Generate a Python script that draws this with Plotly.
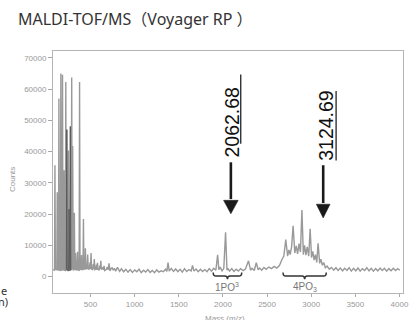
import plotly.graph_objects as go

# ---------------- data ----------------
mass = [75, 92, 97, 102, 118, 123, 128, 137, 142, 147, 159, 164, 169, 178, 183, 188,
        196, 201, 206, 215, 220, 225, 231, 236, 245, 250, 254, 257, 261, 267, 272, 277,
        282, 287, 292, 298, 303, 312, 317, 322, 326, 331, 337, 348, 353, 358, 371, 376,
        381, 393, 398, 403, 415, 420, 425, 437, 442, 447, 460, 468, 475, 488, 494, 499,
        506, 512, 525, 531, 537, 543, 549, 561, 567, 573, 579, 585, 599, 605, 611, 617,
        623, 636, 642, 648, 654, 660, 680, 690, 700, 710, 720, 735, 745, 757, 770,
        785, 805, 830, 850, 875, 900, 925, 950, 975, 1000, 1025, 1050, 1075, 1100, 1125,
        1150, 1175, 1200, 1225, 1250, 1275, 1300, 1325, 1350, 1365, 1378, 1392, 1415,
        1440, 1465, 1490, 1515, 1540, 1565, 1590, 1615, 1640, 1656, 1672, 1695, 1720,
        1745, 1770, 1795, 1820, 1845, 1870, 1895, 1920, 1940, 1954, 1968, 1990, 2010,
        2030, 2046, 2056, 2075, 2100, 2125, 2150, 2175, 2200, 2230, 2255, 2290, 2313,
        2330, 2355, 2378, 2399, 2415, 2440, 2465, 2490, 2520, 2550, 2580, 2610, 2640,
        2670, 2690, 2712, 2733, 2747, 2762, 2778, 2795, 2814, 2830, 2846, 2862, 2878,
        2895, 2911, 2925, 2940, 2955, 2972, 2988, 3004, 3018, 3033, 3048, 3063, 3078,
        3096, 3110, 3127, 3143, 3160, 3180, 3205, 3230, 3255, 3280, 3305, 3330, 3355,
        3380, 3405, 3430, 3455, 3480, 3505, 3530, 3555, 3580, 3605, 3630, 3655, 3680,
        3705, 3730, 3755, 3780, 3805, 3830, 3855, 3880, 3905, 3930, 3955, 3980, 4005,
        4030]
counts = [2200, 2000, 35600, 2400, 2100, 27000, 2300, 1900, 57000, 2200, 1800, 65000,
          2000, 2100, 64600, 1900, 2300, 34000, 2000, 1900, 62300, 2200, 47000, 2000,
          2300, 40300, 1800, 21500, 2100, 1900, 48000, 2300, 2000, 63700, 2200, 41800,
          2000, 2200, 20400, 2100, 2400, 7500, 2000, 2300, 7900, 2100, 2000, 62300, 2300,
          2200, 6900, 2400, 2100, 18400, 2500, 2200, 9000, 2300, 2600, 7000, 2200, 2500,
          4500, 2300, 7500, 2400, 2100, 4000, 2500, 5600, 2200, 2400, 3800, 2100, 4400,
          2300, 2000, 3500, 2400, 5000, 2200, 2500, 3000, 2100, 3400, 1900, 2300, 3000,
          2100, 4200, 1800, 2600, 2800, 2000, 2600,
          1700, 2900, 1600, 2500, 1500, 2300, 1400, 2200, 1300, 2100, 1500, 2300, 1200,
          2000, 1400, 2200, 1300, 1900, 1200, 2100, 1400, 1800, 1500, 2300, 1600, 4400,
          1700, 2600, 1600, 2400, 1500, 2300, 1400, 2500, 1600, 2200, 1800, 3500, 1700,
          2400, 1500, 2300, 1600, 2200, 1500, 2500, 1700, 2600, 2000, 6900, 2200, 3000,
          1800, 2600, 14150, 2000, 2600, 1700, 2500, 1600, 2300, 1700, 2500, 1900, 2400,
          5000, 2000, 2600, 1900, 4400, 2100, 2700, 2000, 2900, 2300, 3000, 2500, 3200,
          2700, 3500, 5500, 6500, 11800, 6500, 8500, 7000, 9500, 16250, 7500, 9800, 7200,
          10500, 7800, 21250, 7000, 10000, 6800, 9500, 6500, 15300, 6000, 8000, 5200,
          7000, 4500, 10600, 4200, 5500, 3600, 4400, 2800, 3300, 2300, 2900, 2000, 2800,
          1900, 2700, 1800, 2600, 1900, 2800, 1700, 2600, 1800, 2700, 1700, 2500, 1900,
          2800, 1800, 2600, 1700, 2500, 1800, 2700, 1900, 2600, 1700, 2500, 1800, 2600,
          1900, 2500, 2000]

# a few darker sticks in the low-mass cluster
dark_mass = [226, 231, 236, 252, 257, 262, 267, 272, 277]
dark_counts = [2000, 47000, 1900, 1800, 21500, 2000, 1900, 48000, 2100]

x_ticks = [500, 1000, 1500, 2000, 2500, 3000, 3500, 4000]
y_ticks = [0, 10000, 20000, 30000, 40000, 50000, 60000, 70000]

peak_labels = ["2062.68", "3124.69"]
arrow_x = [2090, 3136]
group_labels = ["1PO<sup>3</sup>", "4PO<sub>3</sub>"]
group_ranges = [(1890, 2213), (2681, 3171)]

X_RANGE = [75, 4040]
Y_RANGE = [-5300, 72200]

fig = go.Figure()
fig.add_trace(go.Scatter(x=mass, y=counts, mode="lines",
                         line=dict(color="#999999", width=1.4), showlegend=False,
                         hoverinfo="skip"))
fig.add_trace(go.Scatter(x=dark_mass, y=dark_counts, mode="lines",
                         line=dict(color="#5a5a5a", width=1), showlegend=False,
                         hoverinfo="skip"))

shapes = []
annotations = []

# arrows with labels (x in data, y in paper)
label_cfg = [
    dict(tx=2107, ty=0.706, ux=2202, u0=0.617, u1=0.903, l0=0.540, h0=0.383, h1=0.327, hw=83),
    dict(tx=3165, ty=0.694, ux=3282, u0=0.548, u1=0.835, l0=0.528, h0=0.367, h1=0.310, hw=78),
]
for lab, ax, c in zip(peak_labels, arrow_x, label_cfg):
    annotations.append(dict(x=c["tx"], y=c["ty"], xref="x", yref="paper", text=lab,
                            textangle=-90, showarrow=False, xanchor="center", yanchor="middle",
                            font=dict(family="Liberation Sans", size=19.5, color="#111")))
    shapes.append(dict(type="line", xref="x", yref="paper", x0=c["ux"], x1=c["ux"],
                       y0=c["u0"], y1=c["u1"], line=dict(color="#111", width=1.2)))
    shapes.append(dict(type="line", xref="x", yref="paper", x0=ax, x1=ax,
                       y0=c["l0"], y1=c["h0"] + 0.005, line=dict(color="#1a1a1a", width=2.6)))
    shapes.append(dict(type="path", xref="x", yref="paper",
                       path=f"M{ax - c['hw']},{c['h0']} L{ax + c['hw']},{c['h0']} L{ax},{c['h1']} Z",
                       fillcolor="#1a1a1a", line=dict(color="#1a1a1a", width=0.5)))

# braces
ya, yb, yc = 0.0847, 0.0698, 0.0565
for lab, (x0, x1) in zip(group_labels, group_ranges):
    xm = (x0 + x1) / 2
    d = 30
    path = (f"M{x0},{ya} Q{x0},{yb} {x0 + d},{yb} L{xm - d},{yb} Q{xm},{yb} {xm},{yc} "
            f"Q{xm},{yb} {xm + d},{yb} L{x1 - d},{yb} Q{x1},{yb} {x1},{ya}")
    shapes.append(dict(type="path", xref="x", yref="paper", path=path,
                       line=dict(color="#333", width=1.5)))
    annotations.append(dict(x=xm, y=0.024, xref="x", yref="paper", text=lab,
                            showarrow=False, xanchor="center", yanchor="middle",
                            font=dict(family="Liberation Sans", size=10, color="#777")))

# axis titles
annotations.append(dict(x=-0.115, y=0.47, xref="paper", yref="paper", text="Counts",
                        textangle=-90, showarrow=False, xanchor="center", yanchor="middle",
                        font=dict(family="Liberation Sans", size=8, color="#999")))
annotations.append(dict(x=2024, y=-0.078, xref="x", yref="paper", text="Mass (m/z)",
                        xanchor="center", yanchor="top", showarrow=False,
                        font=dict(family="Liberation Sans", size=8, color="#999")))
# cropped fragments at left edge
annotations.append(dict(x=-0.126, y=0.012, xref="paper", yref="paper", text="e",
                        xanchor="right", yanchor="middle", showarrow=False,
                        font=dict(family="Noto Sans", size=11, color="#333")))
annotations.append(dict(x=-0.124, y=-0.036, xref="paper", yref="paper", text="n)",
                        xanchor="right", yanchor="middle", showarrow=False,
                        font=dict(family="Noto Sans", size=11, color="#333")))

fig.update_layout(
    width=420, height=320,
    margin=dict(l=53, r=11, t=51, b=21),
    paper_bgcolor="white", plot_bgcolor="white",
    title=dict(text="MALDI-TOF/MS（Voyager RP ）", xref="container", yref="container",
               x=18 / 420, xanchor="left", y=1 - 19 / 320, yanchor="middle",
               font=dict(family="Noto Sans, Noto Sans CJK JP", size=16, color="#333")),
    shapes=shapes, annotations=annotations,
    xaxis=dict(range=X_RANGE, tickvals=x_ticks, ticktext=[str(v) for v in x_ticks],
               showgrid=False, zeroline=False, showline=True, mirror=True,
               linecolor="#b5b5b5", linewidth=1, ticks="outside", ticklen=3,
               tickcolor="#aaa", tickfont=dict(family="Liberation Sans", size=8, color="#999")),
    yaxis=dict(range=Y_RANGE, tickvals=y_ticks, ticktext=[str(v) for v in y_ticks],
               showgrid=False, zeroline=False, showline=True, mirror=True,
               linecolor="#b5b5b5", linewidth=1, ticks="outside", ticklen=4,
               tickcolor="#aaa", tickfont=dict(family="Liberation Sans", size=8, color="#999")),
)

fig.write_html("out.html", config={"displayModeBar": False},
               post_script="document.body.style.margin='0';")
